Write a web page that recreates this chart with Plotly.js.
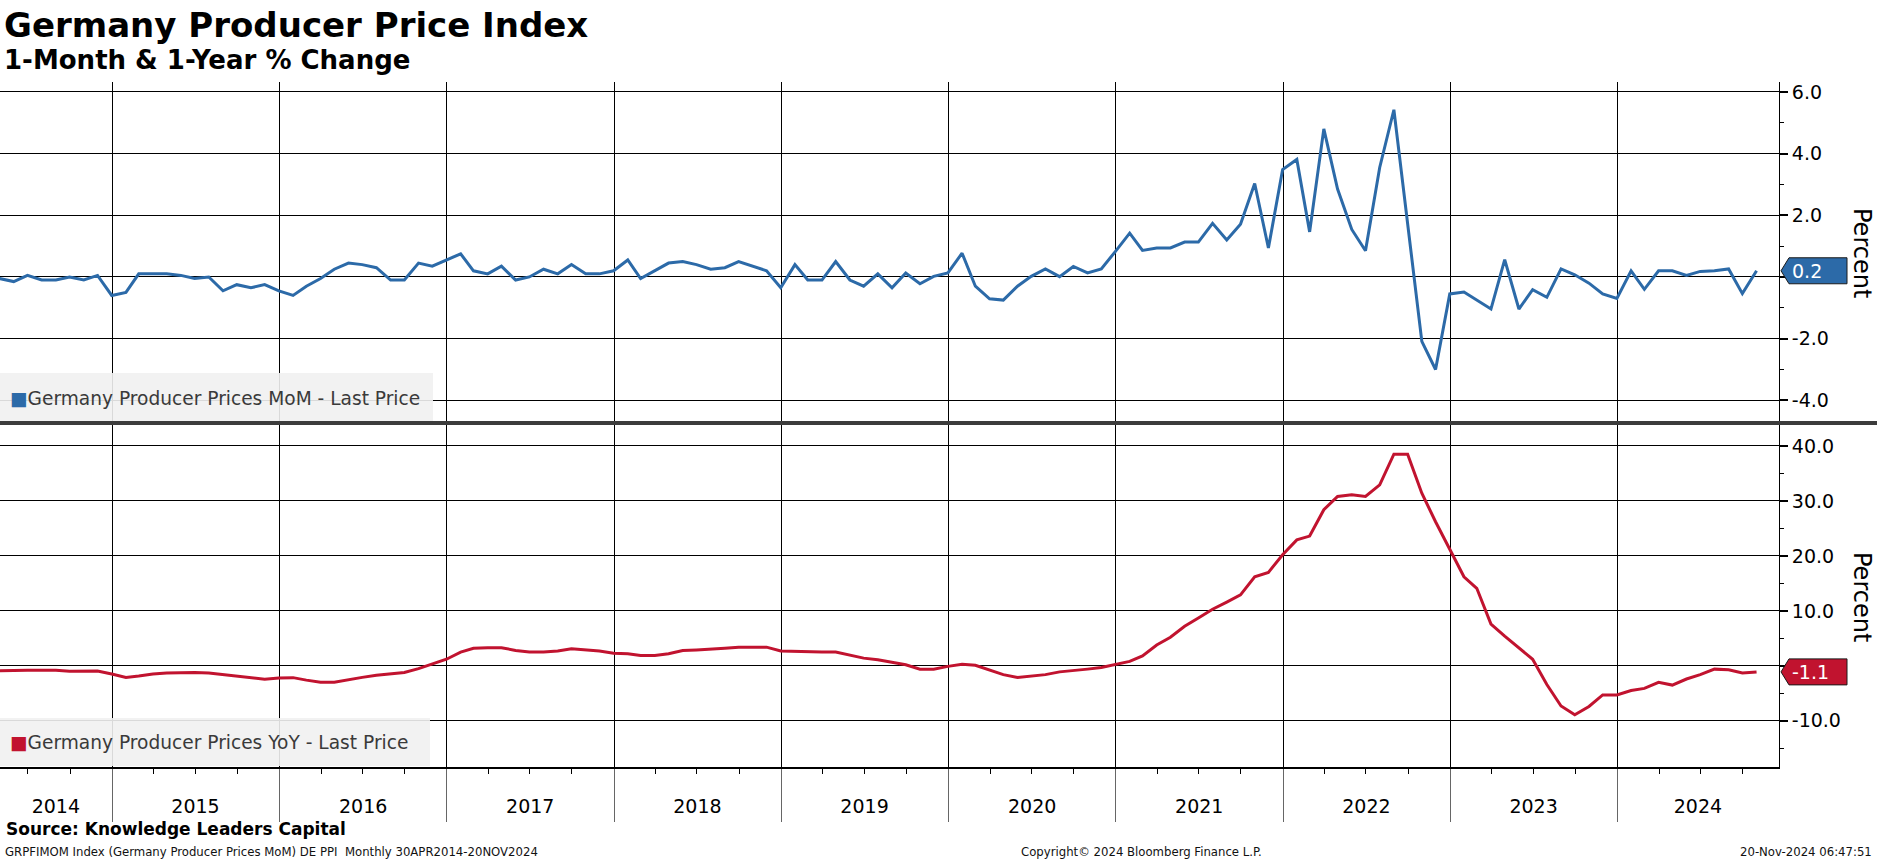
<!DOCTYPE html>
<html><head><meta charset="utf-8">
<script src="https://cdn.plot.ly/plotly-3.0.1.min.js"></script>
<style>html,body{margin:0;padding:0;background:#fff;}#chart{width:1877px;height:859px;}</style>
</head><body><div id="chart"></div>
<script>
// ---------------- DATA ----------------
const firstYear = 2014, firstMonth = 4; // April 2014, monthly (month-end)
const momValues = [
  -0.05,-0.15,0.05,-0.1,-0.1,0.0,-0.1,0.05,-0.6,
  -0.5,0.1,0.1,0.1,0.05,-0.05,0.0,-0.45,-0.25,-0.35,-0.25,-0.45,
  -0.6,-0.3,-0.05,0.25,0.45,0.4,0.3,-0.1,-0.1,0.45,0.35,0.55,
  0.75,0.2,0.1,0.35,-0.1,0.0,0.25,0.1,0.4,0.1,0.1,0.2,
  0.55,-0.05,0.2,0.45,0.5,0.4,0.25,0.3,0.5,0.35,0.2,-0.35,
  0.4,-0.1,-0.1,0.5,-0.1,-0.3,0.1,-0.35,0.13,-0.22,0.02,0.13,
  0.77,-0.3,-0.71,-0.75,-0.3,0.02,0.26,0.01,0.34,0.13,0.26,0.83,
  1.42,0.86,0.94,0.94,1.13,1.13,1.74,1.2,1.71,3.03,0.94,3.48,
  3.81,1.46,4.8,2.85,1.54,0.85,3.55,5.42,1.7,-2.09,-3.0,-0.55,
  -0.49,-0.74,-1.04,0.56,-1.04,-0.41,-0.66,0.26,0.07,-0.2,-0.55,-0.7,
  0.2,-0.4,0.2,0.2,0.05,0.18,0.2,0.26,-0.54,0.2
];
const yoyValues = [
  -0.9,-0.8,-0.8,-0.8,-0.8,-1.0,-1.0,-0.95,-1.5,
  -2.1,-1.85,-1.5,-1.3,-1.2,-1.2,-1.3,-1.6,-1.9,-2.1,-2.45,-2.2,
  -2.15,-2.6,-3.0,-3.0,-2.5,-2.1,-1.7,-1.5,-1.2,-0.5,0.3,1.2,
  2.5,3.2,3.3,3.3,2.8,2.5,2.5,2.7,3.1,2.9,2.7,2.3,
  2.2,1.9,1.9,2.2,2.8,2.9,3.0,3.2,3.4,3.4,3.4,2.7,
  2.6,2.6,2.5,2.5,2.0,1.4,1.1,0.6,0.2,-0.6,-0.6,-0.1,
  0.3,0.1,-0.7,-1.6,-2.1,-1.8,-1.6,-1.1,-0.9,-0.6,-0.3,0.2,
  0.8,1.8,3.8,5.2,7.2,8.7,10.3,11.6,12.9,16.2,17.0,20.2,
  22.9,23.6,28.4,30.8,31.1,30.8,32.9,38.5,38.5,31.4,26.2,21.2,
  16.2,14.1,7.6,5.4,3.2,1.2,-3.4,-7.3,-8.9,-7.4,-5.3,-5.3,
  -4.5,-4.1,-3.0,-3.5,-2.4,-1.6,-0.6,-0.7,-1.3,-1.1
];
const yearLabels = ['2014','2015','2016','2017','2018','2019','2020','2021','2022','2023','2024'];
const momTickVals = [-4,-2,0,2,4,6];
const momTickText = ['-4.0','-2.0','','2.0','4.0','6.0'];   // 0.0 hidden behind the last-value tag
const yoyTickVals = [-10,0,10,20,30,40];
const yoyTickText = ['-10.0','','10.0','20.0','30.0','40.0']; // 0.0 hidden behind the last-value tag
const momName = 'Germany Producer Prices MoM - Last Price';
const yoyName = 'Germany Producer Prices YoY - Last Price';
const titleText = 'Germany Producer Price Index';
const subtitleText = '1-Month &amp; 1-Year % Change';

// ---------------- STYLE / GEOMETRY ----------------
const BLUE = '#2c6aa8', RED = '#c1132f';
const FONT = 'DejaVu Sans, Verdana, sans-serif';
const NARROW = 'DejaVu Sans Condensed, Liberation Sans Narrow, DejaVu Sans, sans-serif';
const PL = 0, PR = 1779, PT = 82, PB = 767, PH = PB - PT;
const py = p => (PB - p) / PH;
const pxp = p => (p - PL) / (PR - PL);
const xRange = ['2014-05-01', '2024-12-19'];
const topRange = [-4.67, 6.32];
const botRange = [-18.4, 43.8];
const topDom = [py(421), 1];
const botDom = [0, py(425)];

// month-end dates
const pad = n => String(n).padStart(2, '0');
const dates = momValues.map((_, i) => {
  const d = new Date(Date.UTC(firstYear, firstMonth - 1 + i + 1, 0));
  return d.getUTCFullYear() + '-' + pad(d.getUTCMonth() + 1) + '-' + pad(d.getUTCDate());
});
const yearStarts = yearLabels.map(y => y + '-01-01').concat([(+yearLabels[yearLabels.length-1] + 1) + '-01-01']);
const r0 = Date.parse(xRange[0]), r1 = Date.parse(xRange[1]);
const labelPos = yearLabels.map(y => {
  const a = Math.max(Date.parse(y + '-01-01'), r0);
  const b = Math.min(Date.parse((+y + 1) + '-01-01'), r1);
  return new Date((a + b) / 2).toISOString().slice(0, 10);
});

const traces = [
  {x: dates, y: momValues, xaxis: 'x', yaxis: 'y', type: 'scatter', mode: 'lines',
   line: {color: BLUE, width: 3}, name: momName, hoverinfo: 'skip'},
  {x: dates, y: yoyValues, xaxis: 'x2', yaxis: 'y2', type: 'scatter', mode: 'lines',
   line: {color: RED, width: 3}, name: yoyName, hoverinfo: 'skip'},
  {x: [], y: [], xaxis: 'x3', yaxis: 'y2', type: 'scatter', mode: 'lines', hoverinfo: 'skip', showlegend: false}
];

const gridX = {type: 'date', range: xRange, tickmode: 'array', tickvals: yearStarts,
  showgrid: true, gridcolor: '#000', gridwidth: 1, zeroline: false, fixedrange: true};

function yAxis(dom, rng, tv, tt, minorStep, anchor) {
  return {domain: dom, range: rng, anchor: anchor, side: 'right', tickmode: 'array',
    tickvals: tv, ticktext: tt, showgrid: true, gridcolor: '#000', gridwidth: 1,
    zeroline: false, ticks: 'outside', ticklen: 8, tickwidth: 2, tickcolor: '#000',
    showline: true, linecolor: '#000', linewidth: 1, fixedrange: true,
    tickfont: {family: FONT, size: 19, color: '#000'},
    minor: {dtick: minorStep, tick0: 0, ticks: 'outside', ticklen: 4, tickwidth: 1, tickcolor: '#000', showgrid: false}};
}

function labelPath(v, rng, domPx) {
  const u = (rng[1] - rng[0]) / domPx, h = 13 * u;
  const xt = pxp(1781), xb = pxp(1789), xr = pxp(1847);
  return `M ${xt} ${v} L ${xb} ${v + h} L ${xr} ${v + h} L ${xr} ${v - h} L ${xb} ${v - h} Z`;
}
const lastMom = momValues[momValues.length - 1];
const lastYoy = yoyValues[yoyValues.length - 1];

const shapes = [
  {type: 'line', xref: 'paper', yref: 'paper', x0: 0, x1: pxp(1877), y0: py(423), y1: py(423),
   line: {color: '#3c3c3c', width: 4}, layer: 'above'},
  {type: 'rect', xref: 'paper', yref: 'paper', x0: 0, x1: pxp(433), y0: py(421), y1: py(373),
   fillcolor: 'rgba(241,241,241,0.9)', line: {width: 0}, layer: 'above'},
  {type: 'rect', xref: 'paper', yref: 'paper', x0: 0, x1: pxp(430), y0: py(766), y1: py(718),
   fillcolor: 'rgba(241,241,241,0.9)', line: {width: 0}, layer: 'above'},
  {type: 'path', xref: 'paper', yref: 'y', path: labelPath(lastMom, topRange, 421 - 82),
   fillcolor: BLUE, line: {color: '#1a1a1a', width: 1}, layer: 'above'},
  {type: 'path', xref: 'paper', yref: 'y2', path: labelPath(lastYoy, botRange, 767 - 425),
   fillcolor: RED, line: {color: '#1a1a1a', width: 1}, layer: 'above'}
];

const ann = (o) => Object.assign({xref: 'paper', yref: 'paper', showarrow: false, xanchor: 'left', yanchor: 'middle'}, o);
const annotations = [
  ann({x: pxp(2), y: py(3), yanchor: 'top', text: '<b>' + titleText + '</b>', font: {family: FONT, size: 34, color: '#000'}}),
  ann({x: pxp(2), y: py(43), yanchor: 'top', text: '<b>' + subtitleText + '</b>', font: {family: FONT, size: 26, color: '#000'}}),
  ann({x: pxp(4), y: py(829), text: '<b>Source: Knowledge Leaders Capital</b>', font: {family: FONT, size: 17, color: '#000'}}),
  ann({x: pxp(3), y: py(851), text: 'GRPFIMOM Index (Germany Producer Prices MoM) DE PPI&nbsp;&nbsp;Monthly 30APR2014-20NOV2024', font: {family: NARROW, size: 13, color: '#111'}}),
  ann({x: pxp(1141), y: py(851), xanchor: 'center', text: 'Copyright© 2024 Bloomberg Finance L.P.', font: {family: NARROW, size: 13, color: '#111'}}),
  ann({x: pxp(1874), y: py(851), xanchor: 'right', text: '20-Nov-2024 06:47:51', font: {family: NARROW, size: 13, color: '#111'}}),
  ann({x: pxp(1862), y: py(253), xanchor: 'center', textangle: 90, text: 'Percent', font: {family: FONT, size: 24, color: '#000'}}),
  ann({x: pxp(1862), y: py(597), xanchor: 'center', textangle: 90, text: 'Percent', font: {family: FONT, size: 24, color: '#000'}}),
  ann({x: pxp(8), y: py(398), text: '<span style="color:' + BLUE + '">■</span>' + momName, font: {family: FONT, size: 18.6, color: '#3a3a3a'}}),
  ann({x: pxp(8), y: py(742), text: '<span style="color:' + RED + '">■</span>' + yoyName, font: {family: FONT, size: 18.6, color: '#3a3a3a'}}),
  ann({x: pxp(1790), yref: 'y', y: lastMom, text: lastMom.toFixed(1), font: {family: FONT, size: 19, color: '#fff'}}),
  ann({x: pxp(1790), yref: 'y2', y: lastYoy, text: lastYoy.toFixed(1), font: {family: FONT, size: 19, color: '#fff'}})
];

const layout = {
  width: 1877, height: 859,
  margin: {l: PL, r: 1877 - PR, t: PT, b: 859 - PB, pad: 0},
  paper_bgcolor: '#fff', plot_bgcolor: '#fff', showlegend: false,
  font: {family: FONT, color: '#000'},
  xaxis: Object.assign({}, gridX, {anchor: 'y', showticklabels: false, ticks: '', showline: false}),
  xaxis2: Object.assign({}, gridX, {anchor: 'y2', showticklabels: false, ticks: 'outside', ticklen: 53,
    tickcolor: '#666', tickwidth: 1, showline: true, linecolor: '#000', linewidth: 2,
    minor: {dtick: 'M3', tick0: '2014-01-01', ticks: 'outside', ticklen: 5, tickwidth: 1, tickcolor: '#000', showgrid: false}}),
  xaxis3: {type: 'date', range: xRange, overlaying: 'x2', anchor: 'y2', side: 'bottom', tickmode: 'array',
    tickvals: labelPos, ticktext: yearLabels, ticks: 'outside', ticklen: 22, tickcolor: 'rgba(0,0,0,0)',
    showgrid: false, showline: false, zeroline: false, fixedrange: true,
    tickfont: {family: FONT, size: 19, color: '#000'}},
  yaxis: yAxis(topDom, topRange, momTickVals, momTickText, 1, 'x'),
  yaxis2: yAxis(botDom, botRange, yoyTickVals, yoyTickText, 5, 'x2'),
  shapes: shapes, annotations: annotations
};

Plotly.newPlot('chart', traces, layout, {displayModeBar: false, staticPlot: true});
</script></body></html>
